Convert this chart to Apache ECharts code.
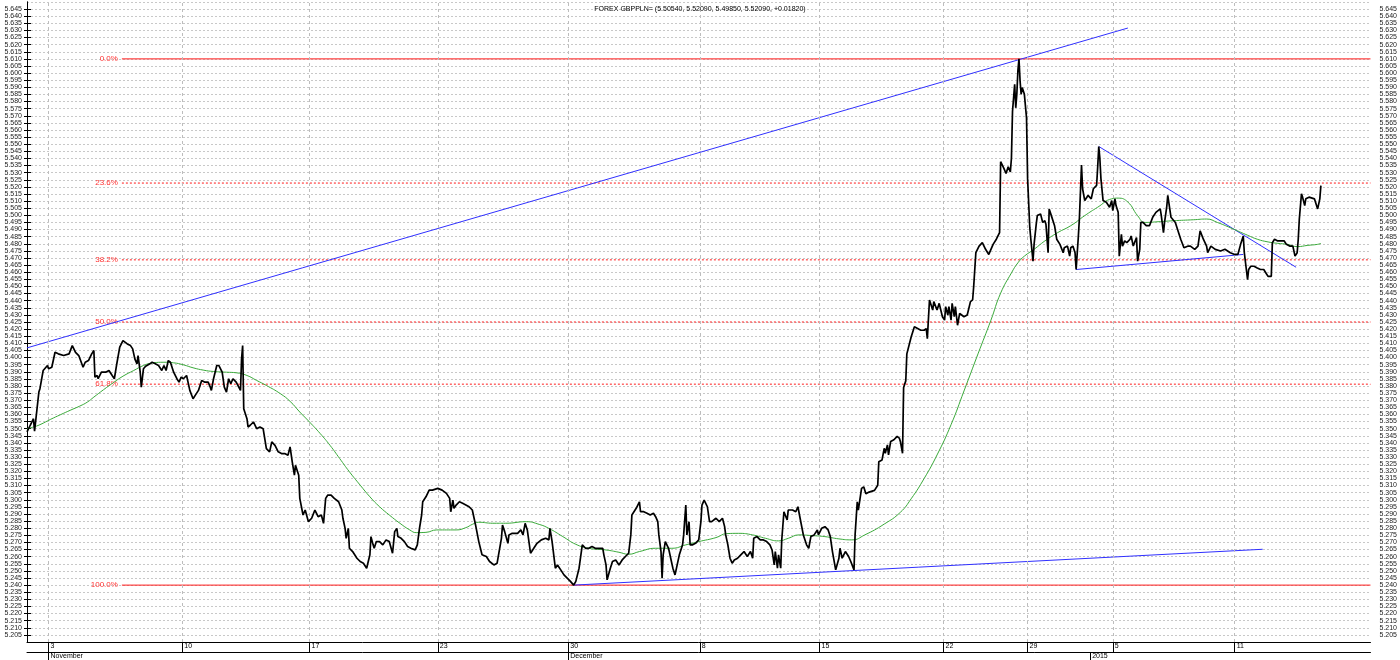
<!DOCTYPE html>
<html><head><meta charset="utf-8">
<script src="https://cdn.jsdelivr.net/npm/echarts@6/dist/echarts.min.js"></script>
<style>html,body{margin:0;padding:0;background:#fff}#c{width:1400px;height:660px}</style>
</head><body><div id="c"></div>
<script>
const titleText = 'FOREX GBPPLN= (5.50540, 5.52090, 5.49850, 5.52090, +0.01820)';
// x = hourly bar number from the start of the chart
const dayTickBar = [20,144,262,381,502,624,735,850,928,1007,1120];
const dayTickLabel = ['3','10','17','23','30','8','15','22','29','5','11'];
const monthTickBar = [20,502,986];
const monthTickLabel = ['November','December','2015'];
const fibLabel = ['0.0%','23.6%','38.2%','50.0%','61.8%','100.0%'];
const fibPrice = [5.610,5.5227,5.4687,5.425,5.3813,5.240];
const fibSolid = [true,false,false,false,false,true];
// trend lines: [startBar, startPrice, endBar, endPrice]
const trendUp = [0,5.4068,1021,5.6317];
const trendSupport = [507,5.2400,1146,5.2652];
const triangleTop = [994,5.5484,1177,5.4635];
const triangleBottom = [973,5.4619,1128,5.4725];
const price = [[0,5.3477],[3,5.3524],[6,5.3570],[7,5.3482],[11,5.3757],[12,5.3781],[15,5.3909],[19,5.3944],[20,5.3921],[23,5.3932],[26,5.4037],[29,5.4026],[34,5.4014],[39,5.4026],[42,5.4084],[45,5.4037],[48,5.4014],[49,5.4002],[52,5.3932],[54,5.3967],[57,5.3979],[60,5.4026],[62,5.4049],[63,5.3862],[65,5.3874],[66,5.3851],[69,5.3897],[73,5.3897],[76,5.3909],[79,5.3874],[81,5.3851],[83,5.3944],[86,5.4073],[89,5.4119],[93,5.4096],[96,5.4084],[98,5.4061],[100,5.3991],[102,5.3956],[103,5.4014],[105,5.3897],[106,5.3792],[108,5.3921],[110,5.3939],[111,5.3944],[114,5.3956],[116,5.3967],[119,5.3956],[122,5.3944],[125,5.3909],[127,5.3944],[129,5.3909],[131,5.3979],[133,5.3967],[136,5.3897],[139,5.3851],[141,5.3827],[143,5.3862],[145,5.3851],[148,5.3874],[151,5.3769],[154,5.3710],[156,5.3734],[159,5.3769],[162,5.3839],[165,5.3827],[168,5.3827],[170,5.3792],[171,5.3769],[173,5.3851],[176,5.3944],[178,5.3944],[181,5.3897],[183,5.3792],[185,5.3757],[187,5.3851],[189,5.3816],[191,5.3851],[194,5.3827],[198,5.3769],[199,5.3991],[200,5.4084],[201,5.3640],[204,5.3570],[205,5.3512],[207,5.3524],[210,5.3547],[213,5.3500],[216,5.3512],[219,5.3500],[222,5.3360],[225,5.3337],[227,5.3407],[230,5.3383],[233,5.3337],[236,5.3325],[239,5.3325],[242,5.3313],[244,5.3372],[246,5.3267],[248,5.3173],[249,5.3243],[252,5.3173],[253,5.3010],[256,5.2893],[258,5.2928],[261,5.2846],[264,5.2870],[267,5.2928],[270,5.2881],[273,5.2893],[275,5.2834],[277,5.3010],[279,5.3033],[282,5.3033],[285,5.3010],[289,5.2986],[292,5.2928],[293,5.2870],[295,5.2799],[296,5.2729],[298,5.2799],[299,5.2659],[302,5.2636],[306,5.2589],[309,5.2566],[312,5.2554],[315,5.2519],[316,5.2531],[318,5.2613],[319,5.2741],[321,5.2683],[322,5.2659],[324,5.2706],[327,5.2706],[330,5.2683],[333,5.2718],[336,5.2706],[339,5.2624],[341,5.2776],[343,5.2799],[344,5.2741],[347,5.2729],[350,5.2706],[353,5.2671],[356,5.2659],[360,5.2648],[362,5.2683],[364,5.2799],[366,5.2893],[367,5.2986],[370,5.3021],[373,5.3068],[376,5.3068],[381,5.3080],
[385,5.3068],[389,5.3045],[392,5.3010],[393,5.2916],[395,5.2998],[396,5.2940],[398,5.2963],[401,5.2986],[404,5.2975],[407,5.2963],[410,5.2951],[413,5.2928],[416,5.2823],[419,5.2706],[422,5.2613],[426,5.2601],[429,5.2566],[433,5.2542],[436,5.2554],[440,5.2729],[441,5.2823],[443,5.2776],[446,5.2694],[447,5.2753],[450,5.2764],[455,5.2764],[458,5.2788],[460,5.2753],[462,5.2834],[464,5.2788],[467,5.2624],[470,5.2659],[473,5.2694],[477,5.2718],[481,5.2729],[484,5.2718],[485,5.2799],[487,5.2706],[490,5.2519],[492,5.2542],[495,5.2507],[498,5.2472],[501,5.2449],[504,5.2426],[507,5.2400],[509,5.2426],[512,5.2519],[515,5.2683],[518,5.2659],[521,5.2659],[524,5.2671],[527,5.2659],[531,5.2659],[534,5.2659],[535,5.2613],[537,5.2542],[538,5.2437],[541,5.2519],[543,5.2566],[546,5.2577],[549,5.2542],[552,5.2577],[555,5.2601],[558,5.2624],[560,5.2753],[561,5.2893],[565,5.2940],[568,5.2986],[569,5.2916],[572,5.2916],[575,5.2905],[578,5.2893],[581,5.2905],[583,5.2881],[585,5.2846],[586,5.2753],[588,5.2636],[589,5.2449],[590,5.2613],[592,5.2706],[595,5.2659],[597,5.2589],[599,5.2519],[601,5.2472],[603,5.2542],[605,5.2613],[608,5.2683],[609,5.2753],[611,5.2963],[612,5.2753],[614,5.2846],[615,5.2683],[617,5.2683],[618,5.2671],[620,5.2694],[623,5.2718],[625,5.2846],[626,5.2963],[628,5.2998],[631,5.2951],[633,5.2846],[635,5.2846],[639,5.2870],[642,5.2846],[645,5.2870],[647,5.2811],[648,5.2753],[650,5.2683],[652,5.2589],[654,5.2554],[656,5.2577],[659,5.2589],[662,5.2613],[665,5.2636],[668,5.2601],[671,5.2636],[673,5.2589],[674,5.2729],[677,5.2741],[680,5.2718],[683,5.2718],[686,5.2706],[689,5.2683],[691,5.2647],[693,5.2542],[694,5.2636],[696,5.2519],[697,5.2613],[699,5.2519],[700,5.2718],[702,5.2916],[703,5.2928],[705,5.2858],[706,5.2928],[710,5.2928],[713,5.2916],[715,5.2951],[717,5.2870],[720,5.2753],[723,5.2683],[725,5.2659],[727,5.2741],[730,5.2753],[733,5.2788],[734,5.2753],[737,5.2799],[740,5.2811],[743,5.2788],[745,5.2741],[747,5.2636],[750,5.2507],[753,5.2589],[754,5.2659],[756,5.2589],[759,5.2636],[762,5.2601],[764,5.2566],[767,5.2507],[768,5.2753],[770,5.2986],[771,5.2928],[774,5.3080],[776,5.3091],
[778,5.3042],[781,5.3054],[786,5.3066],[789,5.3102],[790,5.3268],[793,5.3280],[795,5.3362],[796,5.3327],[798,5.3386],[799,5.3315],[801,5.3410],[804,5.3422],[807,5.3446],[809,5.3434],[810,5.3410],[812,5.3327],[813,5.3789],[815,5.3836],[816,5.4026],[820,5.4144],[823,5.4216],[826,5.4204],[829,5.4192],[832,5.4192],[834,5.4204],[835,5.4133],[837,5.4405],[838,5.4417],[840,5.4334],[841,5.4393],[844,5.4334],[846,5.4381],[849,5.4287],[851,5.4263],[852,5.4358],[854,5.4299],[855,5.4358],[857,5.4263],[858,5.4381],[860,5.4287],[861,5.4358],[863,5.4227],[865,5.4310],[869,5.4287],[872,5.4299],[875,5.4393],[877,5.4405],[878,5.4500],[880,5.4737],[883,5.4784],[886,5.4808],[889,5.4761],[892,5.4725],[896,5.4796],[899,5.4832],[902,5.4879],[903,5.5377],[906,5.5330],[908,5.5294],[910,5.5341],[912,5.5306],[913,5.5401],[914,5.5732],[916,5.5922],[917,5.5756],[918,5.5851],[919,5.6017],[920,5.6100],[921,5.5946],[922,5.5851],[923,5.5898],[925,5.5851],[927,5.5685],[928,5.5258],[930,5.4915],[931,5.4832],[933,5.4678],[934,5.4796],[936,5.4938],[937,5.4998],[940,5.5010],[942,5.4950],[944,5.4962],[945,5.4938],[947,5.4737],[948,5.5045],[950,5.4998],[953,5.4927],[955,5.4832],[958,5.4796],[959,5.4808],[961,5.4737],[962,5.4772],[965,5.4784],[967,5.4713],[968,5.4772],[970,5.4784],[972,5.4737],[973,5.4619],[975,5.4844],[976,5.4974],[978,5.5353],[979,5.5187],[981,5.5104],[984,5.5140],[987,5.5116],[989,5.5187],[990,5.5187],[992,5.5211],[993,5.5341],[994,5.5484],[995,5.5401],[996,5.5258],[998,5.5104],[999,5.5116],[1001,5.5092],[1004,5.5057],[1006,5.5104],[1007,5.5033],[1009,5.5116],[1010,5.5069],[1012,5.5021],[1013,5.4713],[1015,5.4867],[1016,5.4784],[1018,5.4820],[1020,5.4808],[1021,5.4796],[1023,5.4832],[1024,5.4855],[1026,5.4784],[1027,5.4796],[1029,5.4844],[1030,5.4678],[1032,5.4761],[1033,5.4950],[1035,5.4950],[1038,5.4927],[1041,5.4927],[1044,5.4986],[1047,5.5021],[1051,5.5045],[1052,5.4998],[1054,5.4879],[1055,5.4950],[1057,5.5057],[1058,5.5140],[1061,5.4986],[1065,5.4950],[1070,5.4832],[1073,5.4772],[1077,5.4784],[1079,5.4784],[1083,5.4761],[1086,5.4784],[1088,5.4891],[1091,5.4832],[1094,5.4784],[1095,5.4737],[1098,5.4784],[1099,5.4796],[1102,5.4761],[1107,5.4749],[1111,5.4761],[1116,5.4737],[1120,5.4725],[1123,5.4725],[1126,5.4808],[1128,5.4855],[1129,5.4737],[1132,5.4547],[1133,5.4619],[1135,5.4642],[1138,5.4642],[1141,5.4630],[1144,5.4619],[1147,5.4619],[1149,5.4595],[1151,5.4571],[1154,5.4571],[1155,5.4808],[1157,5.4832],[1160,5.4820],[1163,5.4820],[1166,5.4820],[1168,5.4796],[1171,5.4784],[1174,5.4784],[1176,5.4713],[1178,5.4737],[1179,5.4832],[1180,5.4974],[1182,5.5152],[1183,5.5128],[1185,5.5069],[1186,5.5116],[1189,5.5128],[1194,5.5116],[1197,5.5045],[1199,5.5116],[1200,5.5209]];
const movingAvg = [[0,5.3500],[6,5.3512],[12,5.3528],[22,5.3566],[31,5.3598],[40,5.3629],[49,5.3659],[56,5.3687],[62,5.3722],[71,5.3774],[80,5.3823],[89,5.3869],[99,5.3909],[108,5.3944],[117,5.3963],[127,5.3967],[136,5.3963],[145,5.3949],[154,5.3928],[164,5.3911],[173,5.3902],[185,5.3897],[194,5.3893],[204,5.3874],[213,5.3839],[222,5.3804],[235,5.3746],[244,5.3692],[253,5.3617],[262,5.3547],[272,5.3465],[281,5.3383],[290,5.3290],[299,5.3197],[309,5.3103],[318,5.3021],[327,5.2951],[336,5.2893],[346,5.2834],[355,5.2788],[361,5.2769],[370,5.2771],[380,5.2788],[398,5.2788],[407,5.2804],[413,5.2827],[419,5.2842],[432,5.2835],[444,5.2835],[463,5.2846],[475,5.2827],[484,5.2799],[497,5.2741],[509,5.2687],[521,5.2659],[537,5.2647],[549,5.2631],[558,5.2617],[568,5.2636],[583,5.2659],[598,5.2659],[611,5.2683],[623,5.2706],[639,5.2734],[649,5.2762],[660,5.2764],[673,5.2753],[685,5.2729],[697,5.2711],[706,5.2729],[716,5.2753],[728,5.2748],[740,5.2741],[753,5.2725],[765,5.2718],[777,5.2753],[795,5.2829],[810,5.2912],[820,5.3007],[832,5.3149],[844,5.3315],[857,5.3528],[869,5.3765],[882,5.4026],[894,5.4263],[903,5.4453],[913,5.4595],[919,5.4666],[925,5.4713],[934,5.4761],[944,5.4820],[956,5.4879],[968,5.4927],[981,5.4998],[993,5.5057],[1006,5.5116],[1012,5.5121],[1021,5.5093],[1030,5.4998],[1037,5.4950],[1049,5.4955],[1063,5.4962],[1082,5.4969],[1094,5.4974],[1104,5.4950],[1119,5.4903],[1132,5.4860],[1141,5.4832],[1151,5.4813],[1160,5.4803],[1169,5.4796],[1178,5.4780],[1188,5.4789],[1197,5.4796],[1200,5.4803]];

const xMax = 1246;
const fibStartBar = 88;
const FONT = 'Liberation Sans, Arial, sans-serif';

const chart = echarts.init(document.getElementById('c'), null, {renderer: 'canvas'});

function seg(t) { return [[t[0], t[1]], [t[2], t[3]]]; }
function trendSeries(t) {
  return {type: 'line', data: seg(t), symbol: 'none', silent: true, z: 4,
    lineStyle: {color: '#3030ff', width: 1}};
}
function fibSeries(i) {
  const p = fibPrice[i];
  return {type: 'line', silent: true, z: 3, symbol: 'circle', symbolSize: 0, showSymbol: true,
    itemStyle: {color: '#ff1a1a'},
    lineStyle: {color: '#ff1a1a', width: 1, type: fibSolid[i] ? 'solid' : [2, 2]},
    data: [
      {value: [fibStartBar, p],
        label: {show: true, position: 'left', distance: 4, formatter: fibLabel[i],
          color: '#ff3030', fontSize: 8, fontFamily: FONT}},
      {value: [xMax, p], label: {show: false}}
    ]};
}

const option = {
  animation: false,
  backgroundColor: '#ffffff',
  title: {text: titleText, left: 'center', top: 1,
    textStyle: {fontSize: 7, fontWeight: 'normal', color: '#000', fontFamily: FONT}},
  grid: {left: 27, right: 27, top: 2, bottom: 15, containLabel: false},
  xAxis: [
    {type: 'value', min: 0, max: xMax, position: 'bottom',
      axisLine: {show: true, onZero: false, lineStyle: {color: '#000', width: 1}},
      axisTick: {show: true, customValues: dayTickBar, length: 10, lineStyle: {color: '#000'}},
      axisLabel: {show: true, customValues: dayTickBar, align: 'left', margin: 1,
        fontSize: 7, color: '#000', fontFamily: FONT, padding: [0, 0, 0, 2],
        formatter: v => { const i = dayTickBar.indexOf(v); return i >= 0 ? dayTickLabel[i] : ''; }},
      splitLine: {show: false}},
    {type: 'value', min: 0, max: xMax, position: 'bottom', offset: 10,
      axisLine: {show: true, onZero: false, lineStyle: {color: '#000', width: 1}},
      axisTick: {show: true, customValues: monthTickBar, length: 8, lineStyle: {color: '#000'}},
      axisLabel: {show: true, customValues: monthTickBar, align: 'left', margin: 1,
        fontSize: 7, color: '#000', fontFamily: FONT, padding: [0, 0, 0, 2],
        formatter: v => { const i = monthTickBar.indexOf(v); return i >= 0 ? monthTickLabel[i] : ''; }},
      splitLine: {show: false}}
  ],
  yAxis: [
    {type: 'value', min: 5.2, max: 5.65, interval: 0.005, position: 'left',
      axisLine: {show: true, lineStyle: {color: '#000', width: 1}},
      axisTick: {show: true, length: 3, lineStyle: {color: '#000'}},
      axisLabel: {fontSize: 7, color: '#222', margin: 5, fontFamily: FONT,
        showMinLabel: false, showMaxLabel: false, formatter: v => v.toFixed(3)},
      splitLine: {show: true, lineStyle: {color: '#c8c8c8', type: [2, 2], width: 1}}},
    {type: 'value', min: 5.2, max: 5.65, interval: 0.005, position: 'right',
      axisLine: {show: true, lineStyle: {color: '#000', width: 1}},
      axisTick: {show: true, length: 4, lineStyle: {color: '#000'}},
      axisLabel: {fontSize: 7, color: '#222', margin: 9, fontFamily: FONT,
        showMinLabel: false, showMaxLabel: false, formatter: v => v.toFixed(3)},
      splitLine: {show: false}}
  ],
  series: [
    {type: 'line', data: [], silent: true, z: 1, symbol: 'none',
      markLine: {silent: true, symbol: ['none', 'none'], animation: false,
        label: {show: false},
        lineStyle: {color: '#bdbdbd', type: [3, 3], width: 1},
        data: dayTickBar.map(b => ({xAxis: b}))}},
    ...fibPrice.map((p, i) => fibSeries(i)),
    trendSeries(trendUp),
    trendSeries(trendSupport),
    trendSeries(triangleTop),
    trendSeries(triangleBottom),
    {type: 'line', data: movingAvg, symbol: 'none', smooth: true, silent: true, z: 5,
      lineStyle: {color: '#3aaa3a', width: 1}},
    {type: 'line', data: price, symbol: 'none', silent: true, z: 6,
      lineStyle: {color: '#000', width: 1.7}}
  ]
};
chart.setOption(option);
</script></body></html>
